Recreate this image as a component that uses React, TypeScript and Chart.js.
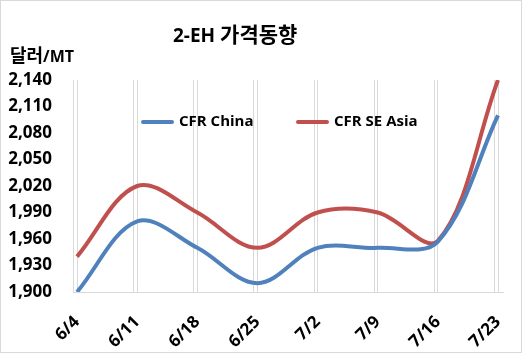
import React, { useEffect, useRef } from 'react';
import { Chart, registerables } from 'chart.js';

Chart.register(...registerables);

const categories = ['6/4', '6/11', '6/18', '6/25', '7/2', '7/9', '7/16', '7/23'];
const cfrChina = [1900, 1980, 1950, 1910, 1950, 1950, 1957, 2100];
const cfrSeAsia = [1940, 2020, 1990, 1950, 1990, 1990, 1958, 2140];
const yTicks = [1900, 1930, 1960, 1990, 2020, 2050, 2080, 2110, 2140];
const seriesNames = ['CFR China', 'CFR SE Asia'];
const seriesColors = ['#4F81BD', '#C0504D'];
const titleParts = ['2-EH ', '가격동향'];
const unitParts = ['달러', '/MT'];

const FONT = "'Open Sans', 'Noto Sans CJK KR', sans-serif";

const decorPlugin = {
  id: 'decor',
  beforeDraw(chart: any) {
    const ctx = chart.ctx;
    ctx.save();
    ctx.fillStyle = '#ffffff';
    ctx.fillRect(0, 0, chart.width, chart.height);
    ctx.strokeStyle = '#d9d9d9';
    ctx.lineWidth = 1;
    ctx.strokeRect(0.5, 0.5, chart.width - 1, chart.height - 1);
    ctx.restore();
  },
  beforeDatasetsDraw(chart: any) {
    const ctx = chart.ctx;
    const xs = chart.scales.x;
    const area = chart.chartArea;
    ctx.save();
    ctx.strokeStyle = '#d9d9d9';
    ctx.lineWidth = 1;
    categories.forEach((_, i) => {
      const px = Math.round(xs.getPixelForValue(i - 0.066)) + 0.5;
      ctx.beginPath();
      ctx.moveTo(px, area.top);
      ctx.lineTo(px, area.bottom);
      ctx.stroke();
    });
    ctx.restore();
  },
  afterDatasetsDraw(chart: any) {
    const ctx = chart.ctx;
    ctx.save();
    // title
    ctx.fillStyle = '#000';
    ctx.textBaseline = 'alphabetic';
    ctx.textAlign = 'left';
    ctx.font = `bold 19px ${FONT}`;
    let x = 173;
    ctx.fillText(titleParts[0], x, 42);
    x += ctx.measureText(titleParts[0]).width;
    ctx.font = `bold 21px 'Noto Sans CJK KR', sans-serif`;
    ctx.fillText(titleParts[1], x, 42);
    // unit label
    ctx.font = `bold 18px 'Noto Sans CJK KR', sans-serif`;
    x = 10;
    ctx.fillText(unitParts[0], x, 62);
    x += ctx.measureText(unitParts[0]).width;
    ctx.font = `bold 16px ${FONT}`;
    ctx.fillText(unitParts[1], x, 62);
    // legend
    const legendX = [143, 298];
    chart.data.datasets.forEach((ds: any, i: number) => {
      const lx = legendX[i];
      const ly = 122;
      ctx.strokeStyle = ds.borderColor;
      ctx.lineWidth = 4;
      ctx.lineCap = 'round';
      ctx.beginPath();
      ctx.moveTo(lx, ly);
      ctx.lineTo(lx + 29, ly);
      ctx.stroke();
      ctx.fillStyle = '#000';
      ctx.font = `bold 15px ${FONT}`;
      ctx.textBaseline = 'middle';
      ctx.fillText(ds.label, lx + 36, ly);
    });
    ctx.restore();
  },
};

export default function App() {
  const ref = useRef<HTMLCanvasElement | null>(null);

  useEffect(() => {
    document.body.style.margin = '0';
    if (!ref.current) return;
    Chart.defaults.font.family = FONT;
    const seriesValues = [cfrChina, cfrSeAsia];
    const chart = new Chart(ref.current, {
      type: 'line',
      data: {
        datasets: seriesValues.map((vals, si) => ({
          label: seriesNames[si],
          data: vals.map((v, i) => ({ x: i, y: v })),
          borderColor: seriesColors[si],
          backgroundColor: seriesColors[si],
          borderWidth: 4,
          pointRadius: 0,
          tension: 0.35,
          fill: false,
        })),
      },
      options: {
        responsive: false,
        animation: false,
        devicePixelRatio: 1,
        layout: { padding: { top: 80, right: 19, bottom: 0, left: 0 } },
        plugins: {
          legend: { display: false },
          title: { display: false },
          tooltip: { enabled: false },
        },
        scales: {
          x: {
            type: 'linear',
            min: -0.0666,
            max: 7.083,
            afterBuildTicks: (s: any) => {
              s.ticks = categories.map((_, i) => ({ value: i }));
            },
            afterFit: (s: any) => {
              s.height = 61;
              s.paddingLeft = 0;
              s.paddingRight = 0;
            },
            ticks: {
              callback: (v: any) => categories[v] ?? '',
              minRotation: 45,
              maxRotation: 45,
              autoSkip: false,
              color: '#000',
              padding: 20,
              font: { size: 17, weight: 'bold', family: FONT },
            },
            grid: { color: '#d9d9d9', lineWidth: 1, drawTicks: false },
            border: { color: '#d9d9d9', width: 1 },
          },
          y: {
            type: 'linear',
            min: 1900,
            max: 2140,
            afterBuildTicks: (s: any) => {
              s.ticks = yTicks.map((v) => ({ value: v }));
            },
            afterFit: (s: any) => {
              s.width = 73;
            },
            ticks: {
              callback: (v: any) => Number(v).toLocaleString('en-US'),
              color: '#000',
              padding: 21,
              font: { size: 17, weight: 'bold', family: FONT },
            },
            grid: { display: false, drawTicks: false },
            border: { display: false },
          },
        },
      },
      plugins: [decorPlugin],
    } as any);
    return () => chart.destroy();
  }, []);

  return (
    <div style={{ width: 522, height: 353 }}>
      <canvas ref={ref} width={522} height={353} style={{ display: 'block' }} />
    </div>
  );
}
